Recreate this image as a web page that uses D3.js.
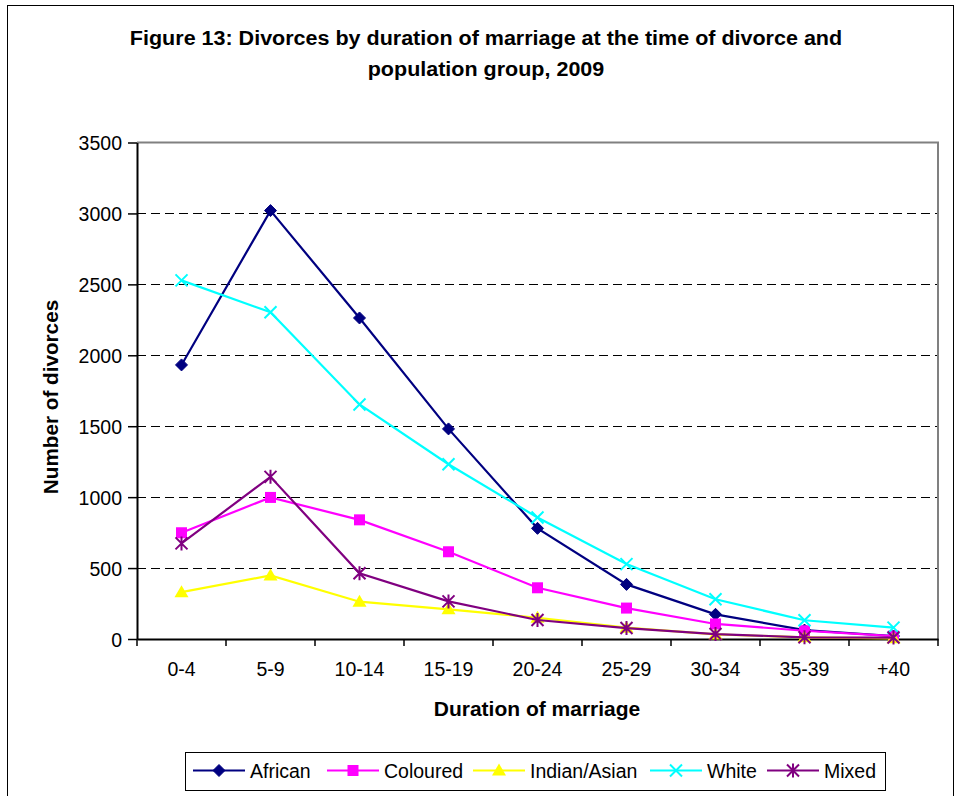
<!DOCTYPE html>
<html><head><meta charset="utf-8">
<script src="https://cdn.jsdelivr.net/npm/d3@7"></script>
<style>body{margin:0;background:#fff}svg{display:block;font-family:"Liberation Sans",Arial,sans-serif}</style>
</head><body>
<svg id="c" width="957" height="796"></svg>
<script>
const categories = ["0-4","5-9","10-14","15-19","20-24","25-29","30-34","35-39","+40"];
const african    = [1932,3020,2263,1481,780,385,174,63,21];
const coloured   = [749,998,840,615,361,218,106,58,20];
const indianAsian= [330,448,263,209,150,80,32,12,5];
const white      = [2528,2303,1653,1232,857,528,280,132,80];
const mixed      = [674,1143,463,265,134,77,35,12,10];
const yTicks = [0,500,1000,1500,2000,2500,3000,3500];
const seriesNames = ["African","Coloured","Indian/Asian","White","Mixed"];
const seriesColors = ["#000080","#FF00FF","#FFFF00","#00FFFF","#800080"];
const seriesMarkers = ["diamond","square","triangle","x","star"];
const seriesValues = [african, coloured, indianAsian, white, mixed];

const svg = d3.select("#c");
const L=137, R=938, T=142.5, B=639;
const x = d3.scaleBand().domain(categories).range([L,R]);
const y = d3.scaleLinear().domain([0,3500]).range([B,T]);

function txt(parent, s, tx, ty, opts={}){
  const rot = opts.rotate ? ` rotate(${opts.rotate})` : "";
  return parent.append("text")
    .attr("transform",`translate(${tx},${ty})${rot} scale(${opts.sx||1},1)`)
    .attr("text-anchor",opts.anchor||"start")
    .attr("font-size",opts.size||19.5)
    .attr("font-weight",opts.bold?"bold":"normal")
    .attr("fill","#000")
    .text(s);
}

// outer border
svg.append("rect").attr("x",7.5).attr("y",5.5).attr("width",946).attr("height",800).attr("fill","none").attr("stroke","#000").attr("stroke-width",1);

// title
txt(svg,"Figure 13: Divorces by duration of marriage at the time of divorce and",486,45,{anchor:"middle",size:20.5,bold:true,sx:1.05});
txt(svg,"population group, 2009",486,76,{anchor:"middle",size:20.5,bold:true,sx:1.05});

// gridlines
svg.append("g").selectAll("line").data(yTicks.filter(d=>d>0&&d<3500)).join("line")
  .attr("x1",L).attr("x2",R).attr("y1",d=>Math.round(y(d))+0.5).attr("y2",d=>Math.round(y(d))+0.5)
  .attr("stroke","#000").attr("stroke-dasharray","9,5").attr("stroke-width",1);

// plot border top/right
svg.append("path").attr("d",`M${L},${T}H${R}V${B}`).attr("fill","none").attr("stroke","#808080").attr("stroke-width",2);

// y axis
const yAxis = d3.axisLeft(y).tickValues(yTicks).tickSize(9).tickSizeOuter(0).tickFormat(d3.format("d"));
const gy = svg.append("g").attr("transform",`translate(${L},0)`).call(yAxis);
gy.select(".domain").attr("stroke","#000").attr("stroke-width",2);
gy.selectAll(".tick line").attr("stroke","#000").attr("stroke-width",1.5);
gy.selectAll(".tick text").remove();
gy.selectAll(".tick").each(function(d){ txt(d3.select(this), d3.format("d")(d), -15, 7, {anchor:"end",size:19.5}); });

// x axis
const xAxis = d3.axisBottom(x).tickSize(0);
const gx = svg.append("g").attr("transform",`translate(0,${B})`).call(xAxis);
gx.select(".domain").attr("stroke","#000").attr("stroke-width",2);
gx.selectAll(".tick text").remove();
gx.selectAll(".tick").each(function(d){ txt(d3.select(this), d, 0, 37, {anchor:"middle",size:19.5}); });
// tick marks at band boundaries
const bounds = categories.map(c=>x(c)).concat([R]);
svg.append("g").selectAll("line").data(bounds).join("line")
  .attr("x1",d=>d).attr("x2",d=>d).attr("y1",B).attr("y2",B+7).attr("stroke","#000").attr("stroke-width",1.5);

// axis titles
txt(svg,"Duration of marriage",537,716,{anchor:"middle",size:21,bold:true});
txt(svg,"Number of divorces",58,397,{anchor:"middle",size:20.7,bold:true,rotate:-90});

function drawMarker(g, type, color, cx, cy){
  if(type==="diamond"){
    g.append("path").attr("d",`M${cx},${cy-6}L${cx+6},${cy}L${cx},${cy+6}L${cx-6},${cy}Z`).attr("fill",color).attr("stroke",color);
  } else if(type==="square"){
    g.append("rect").attr("x",cx-5.5).attr("y",cy-5.5).attr("width",11).attr("height",11).attr("fill",color);
  } else if(type==="triangle"){
    g.append("path").attr("d",`M${cx},${cy-7}L${cx+7},${cy+5}L${cx-7},${cy+5}Z`).attr("fill",color);
  } else if(type==="x"){
    g.append("path").attr("d",`M${cx-6},${cy-6}L${cx+6},${cy+6}M${cx-6},${cy+6}L${cx+6},${cy-6}`).attr("stroke",color).attr("stroke-width",2);
  } else if(type==="star"){
    g.append("path").attr("d",`M${cx-6},${cy-6}L${cx+6},${cy+6}M${cx-6},${cy+6}L${cx+6},${cy-6}M${cx},${cy-7}L${cx},${cy+7}`).attr("stroke",color).attr("stroke-width",2);
  }
}

const line = d3.line().x((d,i)=>x(categories[i])+x.bandwidth()/2).y(d=>y(d));
seriesValues.forEach((vals,si)=>{
  const g = svg.append("g");
  g.append("path").datum(vals).attr("d",line).attr("fill","none").attr("stroke",seriesColors[si]).attr("stroke-width",2.2);
  vals.forEach((v,i)=>drawMarker(g, seriesMarkers[si], seriesColors[si], x(categories[i])+x.bandwidth()/2, y(v)));
});

// legend
const lg = svg.append("g");
lg.append("rect").attr("x",185.5).attr("y",752.5).attr("width",700).attr("height",38).attr("fill","#fff").attr("stroke","#000").attr("stroke-width",1);
const legendX = [193,327,473,650,767];
seriesNames.forEach((n,i)=>{
  const lx = legendX[i], ly = 770.5;
  lg.append("line").attr("x1",lx).attr("x2",lx+52).attr("y1",ly).attr("y2",ly).attr("stroke",seriesColors[i]).attr("stroke-width",2);
  drawMarker(lg, seriesMarkers[i], seriesColors[i], lx+26, ly);
  txt(lg, n, lx+57, ly+7, {size:19.5});
});
</script>
</body></html>
